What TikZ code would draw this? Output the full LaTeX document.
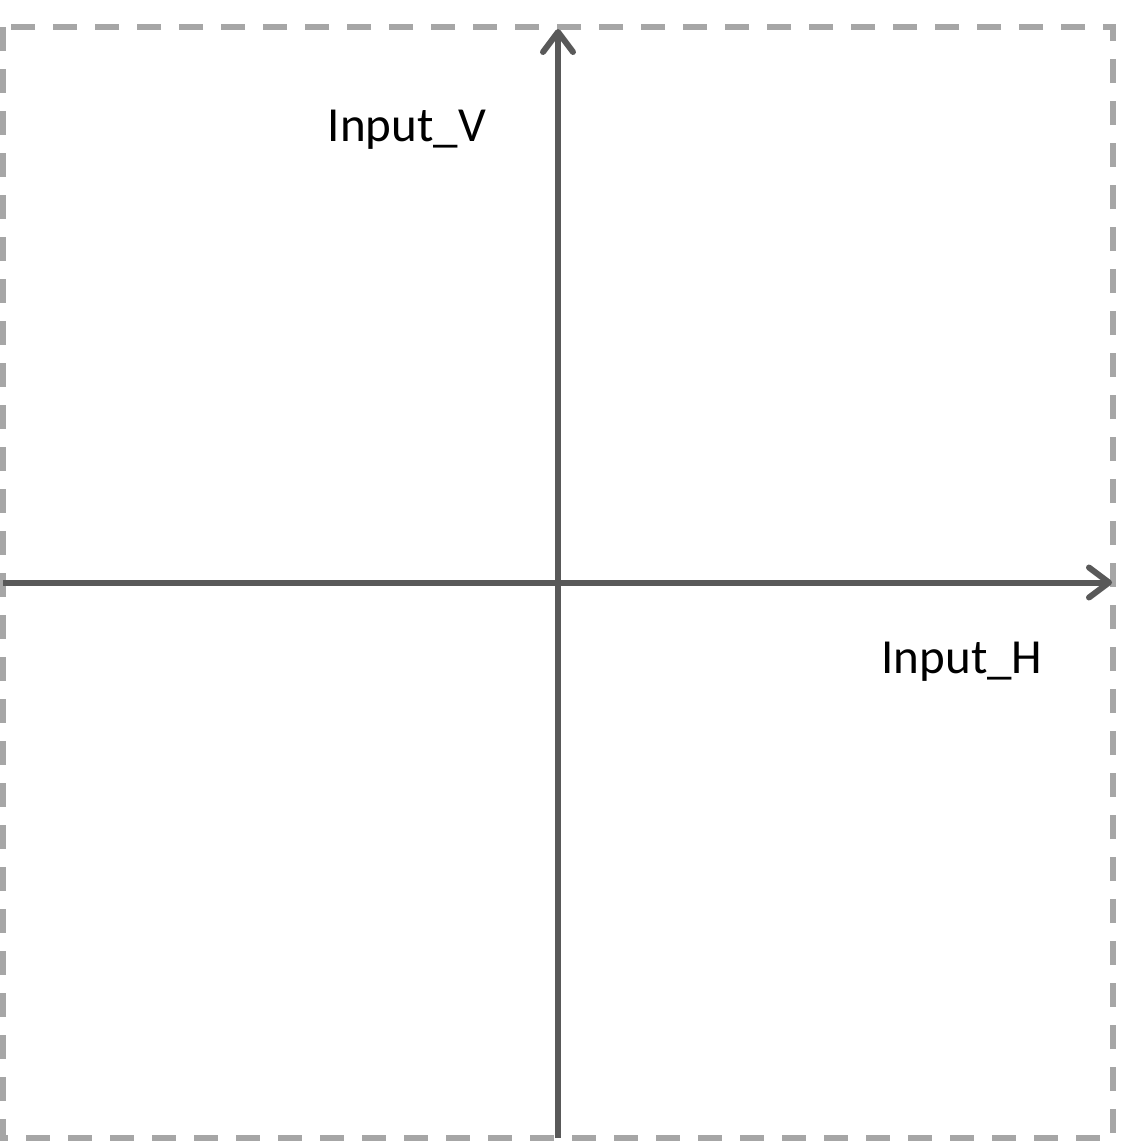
\documentclass[tikz,border=0pt]{standalone}
\usepackage{fontspec}
\setmainfont{Carlito}
\usetikzlibrary{arrows.meta}
\definecolor{axisgray}{HTML}{595959}
\definecolor{framegray}{HTML}{A6A6A6}
\tikzset{
  frame/.style={draw=framegray, line width=6pt, dash pattern=on 24pt off 18pt},
  axisline/.style={draw=axisgray, line width=6pt, line cap=butt,
    -{Straight Barb[length=20pt, width=30pt, round]}},
  lbl/.style={font=\fontsize{49}{58}\selectfont, text=black, inner sep=0pt}
}
\begin{document}
\begin{tikzpicture}[x=1pt, y=-1pt]
  \useasboundingbox (0,0) rectangle (1141,1141);
  \coordinate (tl) at (3,27);
  \coordinate (br) at (1113,1138);
  \draw[frame] (tl) rectangle (br);
  \coordinate (vbot) at (558,1138);
  \coordinate (vtop) at (558,29);
  \coordinate (hleft) at (3,582.5);
  \coordinate (hright) at (1112,582.5);
  \draw[axisline] (hleft) -- (hright);
  \draw[axisline] (vbot) -- (vtop);
  \node[lbl] (inv) at (407,130) {Input\_V};
  \node[lbl] (inh) at (962,662) {Input\_H};
\end{tikzpicture}
\end{document}
